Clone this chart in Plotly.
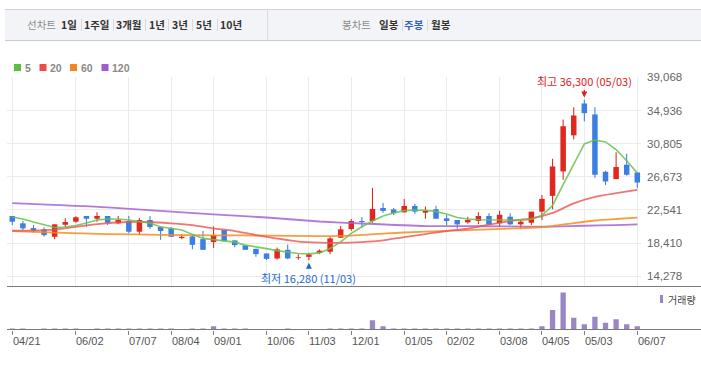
import plotly.graph_objects as go

W, H = 701, 366


def px(x):
    return x / W


def py(y):
    return 1 - y / H


# ---------------- data ----------------
weeks = list(range(60))

open_ = [21790, 20880, 20290, 20130, 19200, 20700, 21080, 21790, 21450, 21790,
         20880, 21170, 19830, 21290, 20420, 20250, 19040, 19250, 18910, 18540,
         20040, 18750, 18130, 17700, 17120, 16500, 17580, 16570, 16700, 17200,
         17330, 19080, 20170, 21170, 21170, 22790, 22600, 22250, 23040, 22200,
         22630, 21500, 21290, 21000, 21170, 21790, 20880, 21700, 20750, 20950,
         22330, 24300, 27340, 31840, 35810, 34440, 27300, 26390, 28180, 27210]
high = [21790, 21170, 20670, 20380, 20750, 21500, 21750, 21790, 22250, 21790,
        21790, 21790, 21540, 21790, 20420, 20420, 19540, 19540, 19910, 20480,
        20040, 18750, 18130, 17700, 17120, 17880, 18250, 17040, 17200, 17630,
        19200, 20540, 21420, 21630, 25300, 23420, 22790, 23920, 23290, 22960,
        23080, 21920, 21290, 21700, 22250, 22130, 22450, 22130, 21290, 22330,
        24420, 28930, 33810, 35350, 36300, 35350, 27430, 29720, 29550, 27210]
low = [20670, 20040, 19700, 19200, 18880, 20420, 20950, 20450, 21080, 20670,
       20750, 19630, 19410, 20170, 18830, 19200, 18880, 17660, 17580, 17790,
       18660, 17910, 17580, 16700, 16300, 16350, 16400, 16350, 16280, 17040,
       17040, 19080, 19950, 20330, 20950, 22200, 21920, 22200, 22040, 21450,
       21450, 20670, 20200, 20830, 20750, 20670, 20450, 20670, 20200, 20670,
       21290, 22630, 26300, 31310, 33600, 26550, 25670, 26390, 26800, 25260]
close = [21080, 20250, 19950, 19410, 20750, 21040, 21630, 21450, 21790, 20950,
         21290, 19830, 21290, 20420, 19910, 19200, 19200, 18200, 17580, 19410,
         18660, 18160, 17580, 17040, 16450, 17630, 16500, 16660, 17000, 17480,
         19000, 20130, 21170, 21040, 22670, 22420, 22140, 23040, 22330, 22450,
         21450, 21170, 20750, 21290, 21790, 20750, 21950, 20750, 21080, 22330,
         23920, 27960, 32970, 34310, 34600, 26930, 26090, 27890, 26930, 25960]
volume = [100, 100, 40, 100, 100, 100, 100, 40, 100, 100,
          100, 100, 100, 100, 100, 100, 40, 100, 100, 330,
          100, 100, 100, 40, 40, 40, 100, 40, 40, 40,
          100, 100, 100, 100, 930, 330, 100, 100, 100, 100,
          100, 100, 100, 100, 100, 100, 100, 100, 100, 100,
          330, 1930, 3670, 1170, 530, 1270, 670, 1030, 530, 330]

ma5 = [21667, 21416, 21041, 20665, 20352, 20415, 20603, 20915, 21291, 21416,
       21416, 21291, 21078, 20878, 20452, 20252, 20039, 19501, 18999, 18849,
       18724, 18537, 18161, 17973, 17723, 17473, 17322, 17122, 17072, 17197,
       17748, 18574, 19626, 20452, 21166, 21792, 22167, 22455, 22543, 22505,
       22330, 22042, 21604, 21416, 21329, 21291, 21291, 21291, 21291, 21379,
       21850, 23100, 25700, 28300, 30768, 31244, 31018, 30054, 28677, 27138]
ma20_idx = [0, 4, 8, 11, 13, 15, 17, 19, 21, 23, 25, 27, 29, 31, 33, 35, 37, 39,
            41, 43, 45, 47, 49, 51, 53, 55, 57, 59]
ma20 = [19951, 20102, 20790, 21041, 21041, 20878, 20665, 20252, 19914, 19414,
        18975, 18599, 18474, 18449, 18537, 18750, 19163, 19538, 19914, 20200,
        20728, 21166, 21479, 22167, 23357, 24171, 24634, 25047]
ma60_idx = [0, 4, 9, 14, 19, 24, 29, 32, 35, 39, 43, 47, 49, 51, 53, 55, 57, 59]
ma60 = [19914, 19726, 19538, 19451, 19388, 19351, 19288, 19351, 19601, 19852,
        20039, 20227, 20327, 20540, 20915, 21229, 21416, 21579]
ma120_idx = [0, 9, 19, 24, 29, 33, 39, 44, 49, 51, 54, 57, 59]
ma120 = [23382, 22856, 21980, 21604, 21103, 20853, 20540, 20515, 20478, 20478,
         20578, 20665, 20753]

price_ticks = [14278, 18410, 22541, 26673, 30805, 34936, 39068]
price_tick_text = ["14,278", "18,410", "22,541", "26,673", "30,805", "34,936", "39,068"]
date_tick_idx = [0, 6, 11, 15, 19, 24, 28, 32, 37, 41, 46, 50, 54, 59]
date_tick_text = ["04/21", "06/02", "07/07", "08/04", "09/01", "10/06", "11/03",
                  "12/01", "01/05", "02/02", "03/08", "04/05", "05/03", "06/07"]

hi_idx, hi_val, hi_label = 54, 36300, "최고 36,300 (05/03)"
lo_idx, lo_val, lo_label = 28, 16280, "최저 16,280 (11/03)"

ma_names = ["5", "20", "60", "120"]

# ---------------- styles ----------------
RED = "#e2271f"
BLUE = "#3b7fe3"
MA_COLORS = ["#66c24a", "#ee5252", "#f58d1e", "#a463d3"]
LEG_COLORS = ["#5cbf3e", "#ef4b4b", "#f5851c", "#a05ccf"]
VOL_COLOR = "#9a86c5"
GRID = "#ebebeb"
KFONT = "Noto Sans CJK KR"
NFONT = "Liberation Sans, Arial, sans-serif"

colors = [RED if c >= o else BLUE for o, c in zip(open_, close)]
body_base = [min(o, c) for o, c in zip(open_, close)]
body_h = [abs(c - o) for o, c in zip(open_, close)]
wick_h = [h - l for h, l in zip(high, low)]

fig = go.Figure()

# wicks
fig.add_trace(go.Bar(x=weeks, y=wick_h, base=low, width=0.1,
                     marker=dict(color=colors, line=dict(width=0)),
                     xaxis="x", yaxis="y", hoverinfo="skip"))
# bodies
fig.add_trace(go.Bar(x=weeks, y=body_h, base=body_base, width=0.52,
                     marker=dict(color=colors, line=dict(width=0)),
                     xaxis="x", yaxis="y", hoverinfo="skip"))

# moving averages
fig.add_trace(go.Scatter(x=ma120_idx, y=ma120, mode="lines",
                         line=dict(color=MA_COLORS[3], width=1.8, shape="spline", smoothing=0.6),
                         opacity=0.85, xaxis="x", yaxis="y", hoverinfo="skip"))
fig.add_trace(go.Scatter(x=ma60_idx, y=ma60, mode="lines",
                         line=dict(color=MA_COLORS[2], width=1.8, shape="spline", smoothing=0.6),
                         opacity=0.85, xaxis="x", yaxis="y", hoverinfo="skip"))
fig.add_trace(go.Scatter(x=ma20_idx, y=ma20, mode="lines",
                         line=dict(color=MA_COLORS[1], width=1.8, shape="spline", smoothing=0.6),
                         opacity=0.8, xaxis="x", yaxis="y", hoverinfo="skip"))
fig.add_trace(go.Scatter(x=weeks, y=ma5, mode="lines",
                         line=dict(color=MA_COLORS[0], width=1.6),
                         opacity=0.85, xaxis="x", yaxis="y", hoverinfo="skip"))

# volume
fig.add_trace(go.Bar(x=weeks, y=volume, width=0.5,
                     marker=dict(color=VOL_COLOR, line=dict(width=0)),
                     xaxis="x2", yaxis="y2", hoverinfo="skip"))

xr = [-0.5, 59.35]
xdom = [px(7), px(641)]

shapes = []
annotations = []


def label(text, x, y, size, color, family=KFONT, xanchor="center"):
    return dict(text=text, x=px(x), y=py(y), xref="paper", yref="paper",
                xanchor=xanchor, yanchor="middle", showarrow=False,
                font=dict(family=family, size=size, color=color))


# toolbar
shapes.append(dict(type="rect", xref="paper", yref="paper", x0=px(5), x1=1,
                   y0=py(40.5), y1=py(9), fillcolor="#f3f4f7", line=dict(width=0), layer="below"))
shapes.append(dict(type="line", xref="paper", yref="paper", x0=px(5), x1=1,
                   y0=py(9.5), y1=py(9.5), line=dict(color="#cfd2d8", width=1)))
shapes.append(dict(type="line", xref="paper", yref="paper", x0=px(5), x1=1,
                   y0=py(40.5), y1=py(40.5), line=dict(color="#c9ccd3", width=1)))
shapes.append(dict(type="line", xref="paper", yref="paper", x0=px(267.5), x1=px(267.5),
                   y0=py(10), y1=py(40), line=dict(color="#d8dbe0", width=1)))

annotations.append(label("선차트", 41, 25, 10.5, "#8c8c8c"))
left_items = ["1일", "1주일", "3개월", "1년", "3년", "5년", "10년"]
left_cx = [69, 97, 129, 157, 180, 204, 231]
for t, cx in zip(left_items, left_cx):
    annotations.append(label("<b>" + t + "</b>", cx, 25, 10.5, "#333333"))
for sx in [81, 113, 145, 168, 192, 217, 402, 427]:
    shapes.append(dict(type="line", xref="paper", yref="paper", x0=px(sx + 0.5), x1=px(sx + 0.5),
                       y0=py(19), y1=py(31), line=dict(color="#d9d9d9", width=1)))
annotations.append(label("봉차트", 356.5, 25, 10.5, "#8c8c8c"))
for t, cx, col in [("일봉", 389, "#333333"), ("주봉", 413.5, "#2f62c4"), ("월봉", 440.5, "#333333")]:
    annotations.append(label("<b>" + t + "</b>", cx, 25, 10.5, col))

# MA legend
leg_sq = [14, 39.5, 70, 101.5]
leg_tx = [22.5, 48, 78.5, 110]
for name, col, sx, tx in zip(ma_names, LEG_COLORS, leg_sq, leg_tx):
    shapes.append(dict(type="rect", xref="paper", yref="paper", x0=px(sx), x1=px(sx + 7),
                       y0=py(71), y1=py(64), fillcolor=col, line=dict(width=0)))
    annotations.append(label("<b>" + name + "</b>", tx, 67.8, 10.5, "#8a8a8a",
                             family=NFONT, xanchor="left"))

# separators / axis lines
shapes.append(dict(type="line", xref="paper", yref="paper", x0=px(7), x1=1,
                   y0=py(286.5), y1=py(286.5), line=dict(color="#7a7a7a", width=1)))
shapes.append(dict(type="line", xref="paper", yref="paper", x0=px(7), x1=1,
                   y0=py(329.5), y1=py(329.5), line=dict(color="#7a7a7a", width=1)))

# date labels (left aligned at tick)
for i, t in zip(date_tick_idx, date_tick_text):
    annotations.append(dict(text=t, x=i, y=py(341), xref="x2", yref="paper",
                            xanchor="left", yanchor="middle", xshift=-1.5, showarrow=False,
                            font=dict(family=NFONT, size=11, color="#555555")))

# volume legend
shapes.append(dict(type="rect", xref="paper", yref="paper", x0=px(660), x1=px(663),
                   y0=py(303), y1=py(295), fillcolor=VOL_COLOR, line=dict(width=0)))
annotations.append(label("거래량", 666, 299, 10, "#444444", xanchor="left"))

# high / low markers
annotations.append(dict(text=hi_label, x=hi_idx, y=hi_val, xref="x", yref="y",
                        showarrow=True, ax=0, ay=-19, arrowhead=2, arrowsize=1, arrowwidth=1.2,
                        arrowcolor="#e0201a", standoff=2,
                        font=dict(family=KFONT, size=11, color="#e0201a")))
annotations.append(dict(text=lo_label, x=lo_idx, y=lo_val, xref="x", yref="y",
                        showarrow=True, ax=0, ay=18, arrowhead=2, arrowsize=1, arrowwidth=1.2,
                        arrowcolor="#1b6bd3", standoff=2.5,
                        font=dict(family=KFONT, size=11, color="#1b6bd3")))

fig.update_layout(
    width=W, height=H,
    margin=dict(l=0, r=0, t=0, b=0),
    paper_bgcolor="white", plot_bgcolor="white",
    showlegend=False, hovermode=False, barmode="overlay",
    xaxis=dict(domain=xdom, range=xr, anchor="y", tickvals=date_tick_idx,
               showticklabels=False, ticks="", showgrid=True, gridcolor=GRID, gridwidth=1,
               zeroline=False, showline=False, fixedrange=True),
    yaxis=dict(domain=[py(286), py(77)], range=[13070, 39105], anchor="x", side="right",
               tickvals=price_ticks, ticktext=price_tick_text, ticks="",
               ticklabelstandoff=5,
               tickfont=dict(family=NFONT, size=11.5, color="#666666"),
               showgrid=True, gridcolor=GRID, gridwidth=1, zeroline=False, showline=False,
               automargin=False, fixedrange=True),
    xaxis2=dict(domain=xdom, range=xr, anchor="y2", tickvals=date_tick_idx,
                showticklabels=False, ticks="outside", ticklen=4, tickcolor="#808080",
                showgrid=False, zeroline=False, showline=False, fixedrange=True),
    yaxis2=dict(domain=[py(329.5), py(288)], range=[0, 4130], anchor="x2",
                visible=False, fixedrange=True),
    shapes=shapes,
    annotations=annotations,
)

fig.write_html("out.html", config={"displayModeBar": False, "staticPlot": True},
               post_script="document.body.style.margin='0';document.body.style.overflow='hidden';")
